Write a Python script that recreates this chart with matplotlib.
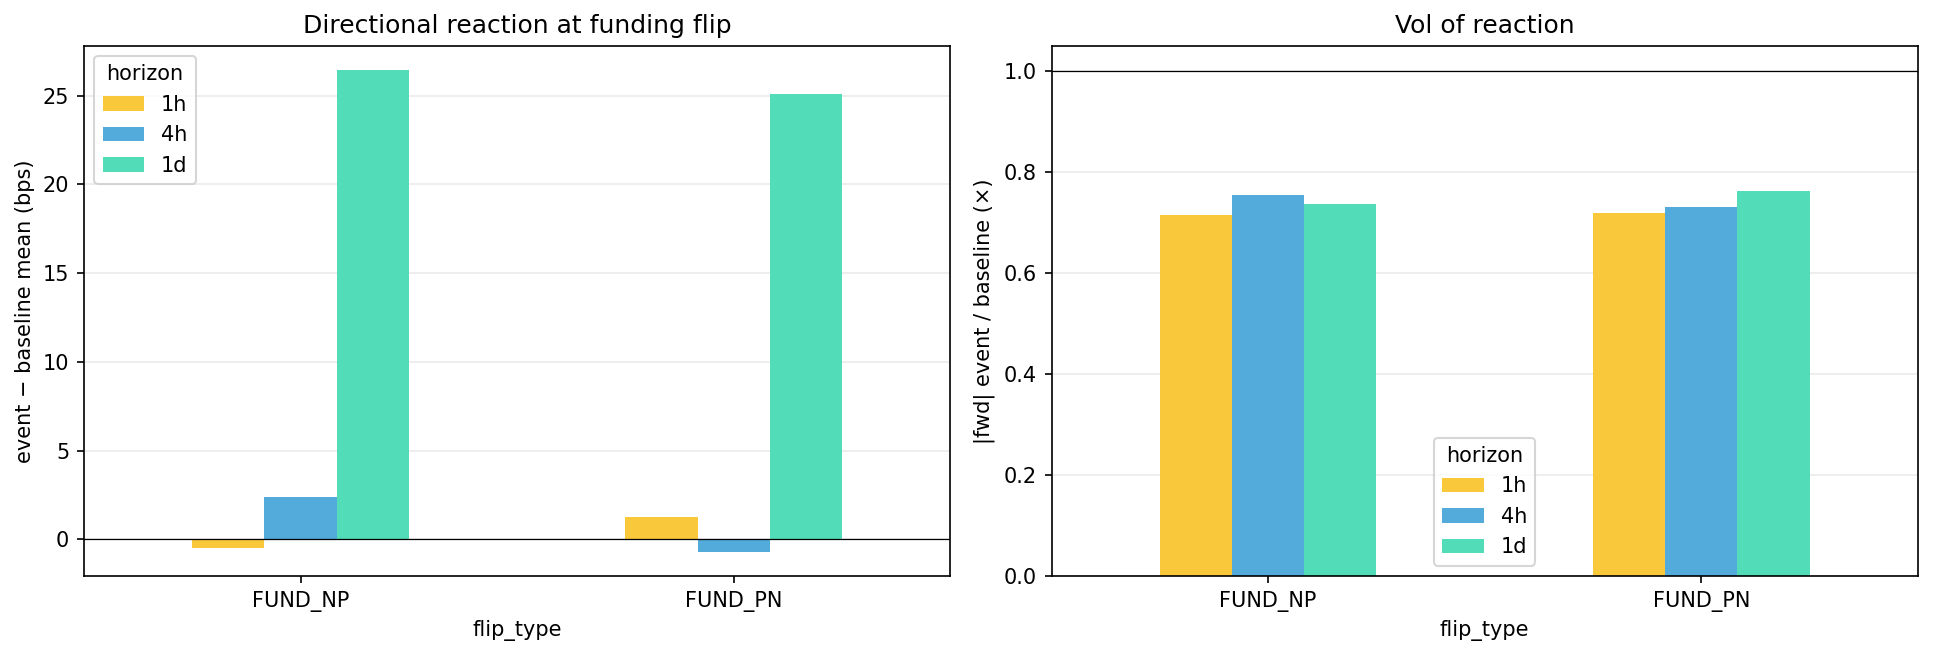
import matplotlib
matplotlib.use("Agg")
import matplotlib.pyplot as plt
import numpy as np
import pandas as pd

# Values
flip_types = ["FUND_NP", "FUND_PN"]
horizons = ["1h", "4h", "1d"]
colors = ["#FAC93B", "#52ABDA", "#52DCB7"]

# event - baseline mean (bps)
dir_1h = [-0.48, 1.24]
dir_4h = [2.36, -0.71]
dir_1d = [26.46, 25.08]

# |fwd| event / baseline
vol_1h = [0.714, 0.718]
vol_4h = [0.754, 0.730]
vol_1d = [0.736, 0.762]

dir_df = pd.DataFrame({"1h": dir_1h, "4h": dir_4h, "1d": dir_1d},
                      index=pd.Index(flip_types, name="flip_type"))
dir_df.columns.name = "horizon"
vol_df = pd.DataFrame({"1h": vol_1h, "4h": vol_4h, "1d": vol_1d},
                      index=pd.Index(flip_types, name="flip_type"))
vol_df.columns.name = "horizon"

fig, axes = plt.subplots(1, 2, figsize=(12.893, 4.38), dpi=150)

# Directional reaction
ax = axes[0]
dir_df.plot.bar(ax=ax, color=colors, rot=0)
ax.axhline(0, color="black", linewidth=0.6)
ax.set_title("Directional reaction at funding flip")
ax.set_ylabel("event \u2212 baseline mean (bps)")
ax.set_xlabel("flip_type")
ax.grid(axis="y", alpha=0.25)
ax.set_axisbelow(True)
ax.legend(title="horizon", loc="upper left")

# Vol of reaction
ax = axes[1]
vol_df.plot.bar(ax=ax, color=colors, rot=0)
ax.axhline(1.0, color="black", linewidth=0.6)
ax.set_title("Vol of reaction")
ax.set_ylabel("|fwd| event / baseline (\u00d7)")
ax.set_xlabel("flip_type")
ax.grid(axis="y", alpha=0.25)
ax.set_axisbelow(True)
ax.legend(title="horizon", loc="lower center")

plt.subplots_adjust(left=0.0434, right=0.9917, bottom=0.1233, top=0.9306, wspace=0.117)
plt.savefig("out.png", dpi=150)
